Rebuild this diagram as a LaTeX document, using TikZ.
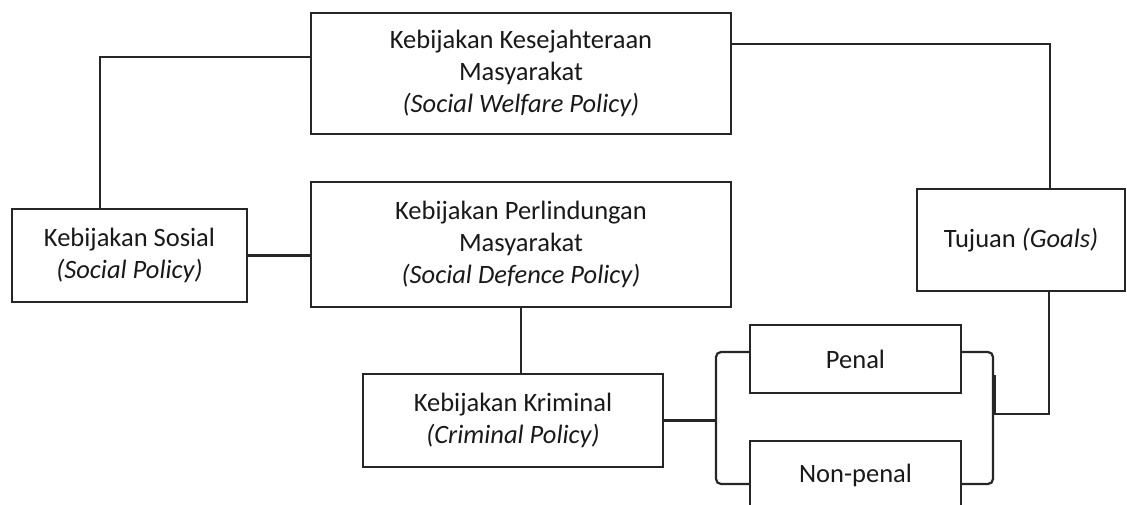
\documentclass[tikz,border=0pt]{standalone}
\usepackage{fontspec}
\setmainfont{Carlito}
\begin{document}
\begin{tikzpicture}[x=1pt,y=-1pt,
  ln/.style={line width=2.2pt,draw=black!85},
  bx/.style={ln,rectangle,inner sep=0pt,align=center,text=black!90,
     font=\fontsize{26.5}{32}\selectfont}]
\useasboundingbox (0,0) rectangle (1127,504);
\clip (0,0) rectangle (1127,504);
\node[bx,minimum width=420,minimum height=121] (wel) at (521,73.5)
  {Kebijakan Kesejahteraan\\Masyarakat\\\textit{(Social Welfare Policy)}};
\node[bx,minimum width=420,minimum height=125] (def) at (521,244.5)
  {Kebijakan Perlindungan\\Masyarakat\\\textit{(Social Defence Policy)}};
\node[bx,minimum width=235,minimum height=93] (sos) at (129.5,255.5)
  {Kebijakan Sosial\\\textit{(Social Policy)}};
\node[bx,minimum width=300,minimum height=93] (krim) at (513,420.5)
  {Kebijakan Kriminal\\\textit{(Criminal Policy)}};
\node[bx,minimum width=208,minimum height=102] (tuj) at (1021,240)
  {Tujuan \textit{(Goals)}};
\node[bx,minimum width=211,minimum height=68] (pen) at (855.5,359) {Penal};
\node[bx,minimum width=211,minimum height=68] (npen) at (855.5,475) {Non-penal};
\coordinate (c1) at (100,57);
\coordinate (lbt) at (716,352);
\coordinate (lbb) at (716,484);
\coordinate (rbt) at (993,352);
\coordinate (rbb) at (993,484);
\coordinate (t1) at (1049,414);
\coordinate (t2) at (995,375);
\coordinate (t3) at (1050,44);
\draw[ln] (c1 |- sos.north) |- (wel.west |- c1);
\draw[ln] (sos.east) -- (def.west |- sos.east);
\draw[ln] (def.south) -- (def.south |- krim.north);
\draw[ln] (krim.east) -- (krim.east -| lbt);
\draw[ln,rounded corners=5pt] (pen.west |- lbt) -- (lbt) -- (lbb) -- (npen.west |- lbb);
\draw[ln,rounded corners=5pt] (pen.east |- rbt) -- (rbt) -- (rbb) -- (npen.east |- rbb);
\draw[ln] (t1 |- tuj.south) |- (t2 |- t1) -- (t2);
\draw[ln] (wel.east |- t3) -| (t3 |- tuj.north);
\end{tikzpicture}
\end{document}
